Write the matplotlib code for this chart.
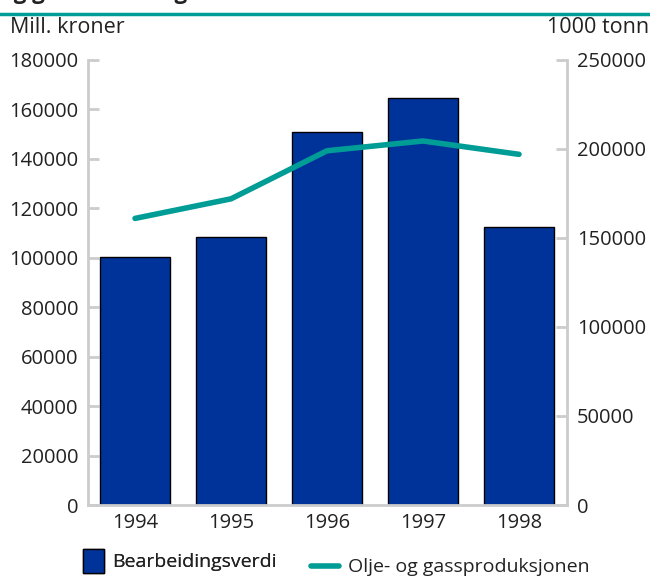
import matplotlib.pyplot as plt
from matplotlib.lines import Line2D

# Data
years = ["1994", "1995", "1996", "1997", "1998"]
bearbeiding = [100500, 108300, 151000, 164800, 112300]   # Mill. kroner
olje_gass = [161000, 172000, 199000, 204500, 197000]       # 1000 tonn

bar_color = "#00339a"
line_color = "#009c96"
grid_gray = "#cccccc"
text_color = "#222222"

plt.rcParams["font.family"] = ["Open Sans", "DejaVu Sans"]

fig = plt.figure(figsize=(6.5, 5.79), dpi=100)
ax = fig.add_axes([0.1354, 0.1278, 0.7369, 0.7686])
ax2 = ax.twinx()

x = list(range(len(years)))
ax.bar(x, bearbeiding, width=0.73, color=bar_color, edgecolor="black", linewidth=1, zorder=2)
ax2.plot(x, olje_gass, color=line_color, linewidth=4, solid_capstyle="round", zorder=3)

ax.set_xlim(-0.49, 4.5)
ax.set_ylim(0, 180000)
ax2.set_ylim(0, 250000)
ax.set_yticks(range(0, 180001, 20000))
ax2.set_yticks(range(0, 250001, 50000))
ax.set_xticks(x)
ax.set_xticklabels(years)

for a in (ax, ax2):
    for s in a.spines.values():
        s.set_visible(False)
ax.spines["left"].set_visible(True)
ax.spines["bottom"].set_visible(True)
ax2.spines["right"].set_visible(True)
for s in (ax.spines["left"], ax.spines["bottom"], ax2.spines["right"]):
    s.set_color(grid_gray)
    s.set_linewidth(2)

ax.tick_params(axis="y", direction="in", length=8, width=2, color=grid_gray,
               labelsize=14.5, labelcolor=text_color, pad=7)
ax2.tick_params(axis="y", direction="in", length=8, width=2, color=grid_gray,
                labelsize=14.5, labelcolor=text_color, pad=7)
ax.tick_params(axis="x", length=0, labelsize=14.5, labelcolor=text_color, pad=6)

# Axis unit labels
fig.text(0.015, 0.952, "Mill. kroner", fontsize=15.5, color=text_color, va="center")
fig.text(0.998, 0.952, "1000 tonn", fontsize=15.5, color=text_color, va="center", ha="right")

# Cut-off title and rule at top
fig.text(0.0, 1.012, "og gassutvinning. 1994-1998", fontsize=16, fontweight="bold",
         color=text_color, va="center")
fig.add_artist(Line2D([0.0, 1.0], [0.975, 0.975], color=line_color, linewidth=2.5,
                      transform=fig.transFigure))

# Legend
bar_handle = plt.Rectangle((0, 0), 1, 1, facecolor=bar_color, edgecolor="black", linewidth=1)
line_handle = Line2D([0], [0], color=line_color, linewidth=4, solid_capstyle="round")
leg1 = fig.legend([bar_handle], ["Bearbeidingsverdi"], loc="center left",
                  bbox_to_anchor=(0.112, 0.031), frameon=False, fontsize=14,
                  handlelength=1.1, handleheight=1.5, handletextpad=0.4,
                  borderpad=0, labelcolor=text_color)
fig.add_artist(leg1)
fig.legend([line_handle], ["Olje- og gassproduksjonen"], loc="center left",
           bbox_to_anchor=(0.463, 0.02), frameon=False, fontsize=14,
           handlelength=1.45, handletextpad=0.45, borderpad=0, labelcolor=text_color)

fig.savefig("out.png", dpi=100)
